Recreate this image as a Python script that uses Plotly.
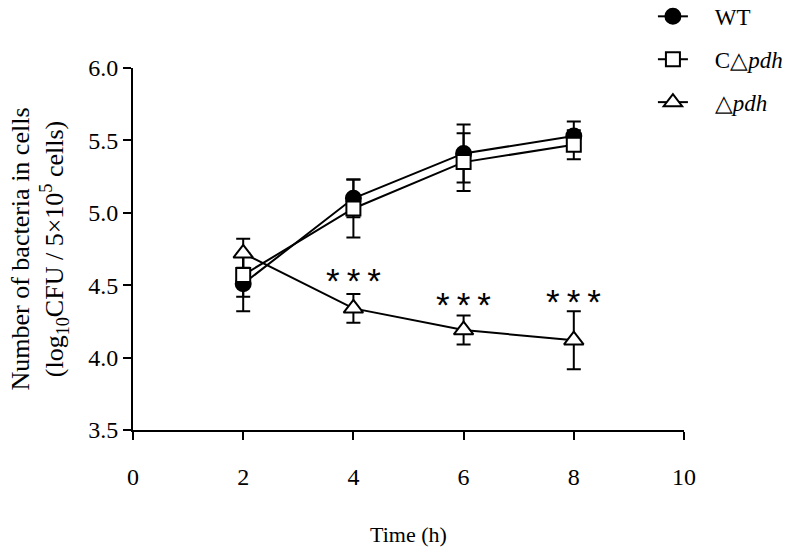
import plotly.graph_objects as go

time_h = [2, 4, 6, 8]
wt_mean = [4.51, 5.10, 5.41, 5.53]
wt_sd = [0.19, 0.13, 0.20, 0.10]
comp_mean = [4.57, 5.03, 5.35, 5.47]
comp_sd = [0.15, 0.20, 0.20, 0.10]
del_mean = [4.72, 4.34, 4.19, 4.12]
del_sd = [0.10, 0.10, 0.10, 0.20]
sig_labels = ["*\u2009*\u2009*", "*\u2009*\u2009*", "*\u2009*\u2009*"]
sig_x = [4, 6, 8]
sig_y = [4.53, 4.37, 4.39]
x_ticks = [0, 2, 4, 6, 8, 10]
y_ticks = [3.5, 4.0, 4.5, 5.0, 5.5, 6.0]

FONT = "Liberation Serif, Times New Roman, serif"
PAD = "\u00a0\u00a0\u00a0\u2009"

fig = go.Figure()

def add_series(name, y, sd, symbol, fill, size, group):
    fig.add_trace(go.Scatter(
        x=time_h, y=y, name=PAD + name, mode="lines+markers",
        legendgroup=group,
        line=dict(color="black", width=2),
        marker=dict(symbol=symbol, size=size, color=fill,
                    line=dict(color="black", width=2)),
        error_y=dict(type="data", array=sd, visible=True,
                     color="black", thickness=2, width=7),
    ))

add_series("WT", wt_mean, wt_sd, "circle", "black", 15, "a")
add_series("C△<i>pdh</i>", comp_mean, comp_sd, "square", "white", 14, "b")
add_series("△<i>pdh</i>", del_mean, del_sd, "triangle-up", "white", 17, "c")

for t, xv, yv in zip(sig_labels, sig_x, sig_y):
    fig.add_annotation(x=xv, y=yv, text=t, showarrow=False,
                       font=dict(family="Arial, Liberation Sans, sans-serif",
                                 size=35, color="black"),
                       xanchor="center", yanchor="middle")

fig.update_layout(
    width=800, height=553,
    margin=dict(l=133, r=116, t=68, b=123, autoexpand=False),
    paper_bgcolor="white", plot_bgcolor="white",
    font=dict(family=FONT, size=21, color="black"),
    showlegend=True,
    legend=dict(x=0.9436, y=1.202, xanchor="left", yanchor="top",
                font=dict(family=FONT, size=23, color="black"),
                bgcolor="rgba(0,0,0,0)", tracegroupgap=10,
                traceorder="grouped"),
    xaxis=dict(range=[0, 10], tickvals=x_ticks,
               ticktext=[str(v) for v in x_ticks],
               showgrid=False, zeroline=False, showline=True,
               linecolor="black", linewidth=2, automargin=False,
               ticks="outside", ticklen=8, tickwidth=2, tickcolor="black",
               tickfont=dict(family=FONT, size=24),
               ticklabelstandoff=16,
               title=dict(text="Time (h)", font=dict(family=FONT, size=22),
                          standoff=38)),
    yaxis=dict(range=[3.5, 6.0], tickvals=y_ticks,
               ticktext=[f"{v:.1f}" for v in y_ticks],
               showgrid=False, zeroline=False, showline=True,
               linecolor="black", linewidth=2, automargin=False,
               ticks="outside", ticklen=8, tickwidth=2, tickcolor="black",
               tickfont=dict(family=FONT, size=24),
               title=dict(text="Number of bacteria in cells<br>(log<sub>10</sub>CFU / 5×10<sup>5</sup> cells)",
                          font=dict(family=FONT, size=26), standoff=17)),
)

fig.write_html("out.html", config={"displayModeBar": False},
               post_script="document.body.style.margin='0';")
